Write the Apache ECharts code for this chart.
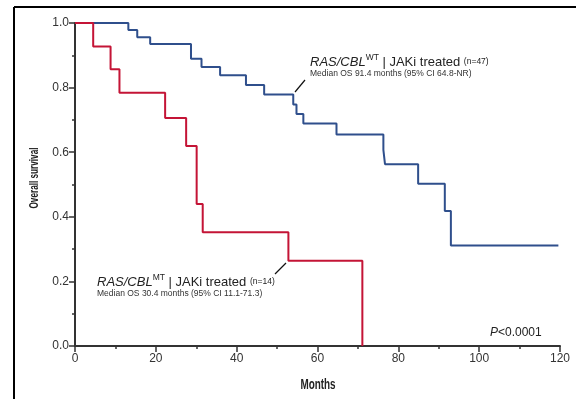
<!DOCTYPE html>
<html>
<head>
<meta charset="utf-8">
<script src="https://cdn.jsdelivr.net/npm/echarts@6/dist/echarts.min.js"></script>
<style>
  html, body { margin: 0; padding: 0; background: #fff; }
  #chart { width: 576px; height: 399px; }
</style>
</head>
<body>
<div id="chart"></div>
<script>
// RAS/CBL wild-type, JAKi treated
var wtMonths = [0, 13.2, 15.4, 18.6, 28.7, 31.3, 35.9, 42.3, 46.8, 54.0, 54.8, 56.5, 64.7, 76.3, 76.7, 84.9, 91.5, 93.0, 119.6];
var wtSurv   = [1.0, 0.978, 0.956, 0.935, 0.889, 0.864, 0.838, 0.808, 0.779, 0.748, 0.718, 0.689, 0.655, 0.607, 0.563, 0.502, 0.418, 0.311, 0.311];
// RAS/CBL mutated, JAKi treated
var mtMonths = [0, 4.5, 8.8, 11.0, 22.3, 27.5, 30.1, 31.6, 52.8, 71.1];
var mtSurv   = [1.0, 0.927, 0.857, 0.784, 0.706, 0.619, 0.44, 0.352, 0.264, 0];

var xTicks = [0, 20, 40, 60, 80, 100, 120];
var yTicks = [0, 0.2, 0.4, 0.6, 0.8, 1.0];

var blue = '#2f4f8c';
var red = '#c41436';
var font = 'Liberation Sans, Arial, sans-serif';

function pairs(xs, ys) {
  return xs.map(function (x, i) { return [x, ys[i]]; });
}

var chart = echarts.init(document.getElementById('chart'));

// label with italic gene name + superscript
function groupLabel(x, y, sup, n) {
  return {
    type: 'text', x: x, y: y,
    style: {
      text: '{it|RAS/CBL}{sup|' + sup + '}{n| | JAKi treated }{s|(n=' + n + ')}',
      verticalAlign: 'middle',
      rich: {
        it: { fontStyle: 'italic', fontSize: 13, fontFamily: font, fill: '#222' },
        sup: { fontSize: 8.5, fontFamily: font, fill: '#222', padding: [0, 0, 8, 0] },
        n: { fontSize: 13, fontFamily: font, fill: '#222' },
        s: { fontSize: 8.5, fontFamily: font, fill: '#222' }
      }
    }
  };
}

var option = {
  animation: false,
  grid: { left: 75, right: 16, top: 23, bottom: 53 },
  xAxis: {
    type: 'value',
    min: xTicks[0],
    max: xTicks[xTicks.length - 1],
    interval: 20,
    axisLine: { lineStyle: { color: '#333', width: 2 } },
    axisTick: { length: 6, lineStyle: { color: '#333', width: 1.5 } },
    minorTick: { show: true, splitNumber: 2, length: 3, lineStyle: { color: '#333', width: 1.5 } },
    axisLabel: { fontFamily: font, fontSize: 12, color: '#333', margin: 7 },
    splitLine: { show: false }
  },
  yAxis: {
    type: 'value',
    min: yTicks[0],
    max: yTicks[yTicks.length - 1],
    interval: 0.2,
    axisLine: { show: true, lineStyle: { color: '#333', width: 2 } },
    axisTick: { show: true, length: 6, lineStyle: { color: '#333', width: 1.5 } },
    minorTick: { show: true, splitNumber: 2, length: 3, lineStyle: { color: '#333', width: 1.5 } },
    axisLabel: {
      fontFamily: font, fontSize: 12, color: '#333', margin: 6,
      formatter: function (v) { return v.toFixed(1); }
    },
    splitLine: { show: false }
  },
  series: [
    {
      name: 'RAS/CBL WT',
      type: 'line',
      step: 'end',
      symbol: 'none',
      lineStyle: { color: blue, width: 2 },
      data: pairs(wtMonths, wtSurv),
      z: 3
    },
    {
      name: 'RAS/CBL MT',
      type: 'line',
      step: 'end',
      symbol: 'none',
      lineStyle: { color: red, width: 2 },
      data: pairs(mtMonths, mtSurv),
      z: 4
    }
  ],
  graphic: [
    // frame lines
    { type: 'line', shape: { x1: 14, y1: 7, x2: 576, y2: 7 }, style: { stroke: '#000', lineWidth: 2 } },
    { type: 'line', shape: { x1: 14, y1: 7, x2: 14, y2: 399 }, style: { stroke: '#000', lineWidth: 2 } },
    // axis titles (condensed look)
    {
      type: 'text', x: 318, y: 385, scaleX: 0.66,
      style: { text: 'Months', align: 'center', verticalAlign: 'middle', fontSize: 15, fontWeight: 'bold', fontFamily: font, fill: '#222' }
    },
    {
      type: 'text', x: 34, y: 178, rotation: Math.PI / 2, scaleX: 0.63,
      style: { text: 'Overall survival', align: 'center', verticalAlign: 'middle', fontSize: 13, fontWeight: 'bold', fontFamily: font, fill: '#222' }
    },
    // leader lines
    { type: 'line', shape: { x1: 295, y1: 92, x2: 305, y2: 80 }, style: { stroke: '#111', lineWidth: 1.2 } },
    { type: 'line', shape: { x1: 275, y1: 274, x2: 286, y2: 263 }, style: { stroke: '#111', lineWidth: 1.2 } },
    groupLabel(310, 62, 'WT', 47),
    {
      type: 'text', x: 310, y: 74,
      style: { text: 'Median OS 91.4 months (95% CI 64.8-NR)', verticalAlign: 'middle', fontSize: 8.5, fontFamily: font, fill: '#333' }
    },
    groupLabel(97, 282, 'MT', 14),
    {
      type: 'text', x: 97, y: 294,
      style: { text: 'Median OS 30.4 months (95% CI 11.1-71.3)', verticalAlign: 'middle', fontSize: 8.5, fontFamily: font, fill: '#333' }
    },
    // p value
    {
      type: 'text', x: 490, y: 333,
      style: {
        text: '{it|P}{n|<0.0001}',
        verticalAlign: 'middle',
        rich: {
          it: { fontStyle: 'italic', fontSize: 12, fontFamily: font, fill: '#222' },
          n: { fontSize: 12, fontFamily: font, fill: '#222' }
        }
      }
    }
  ]
};

chart.setOption(option);
</script>
</body>
</html>
